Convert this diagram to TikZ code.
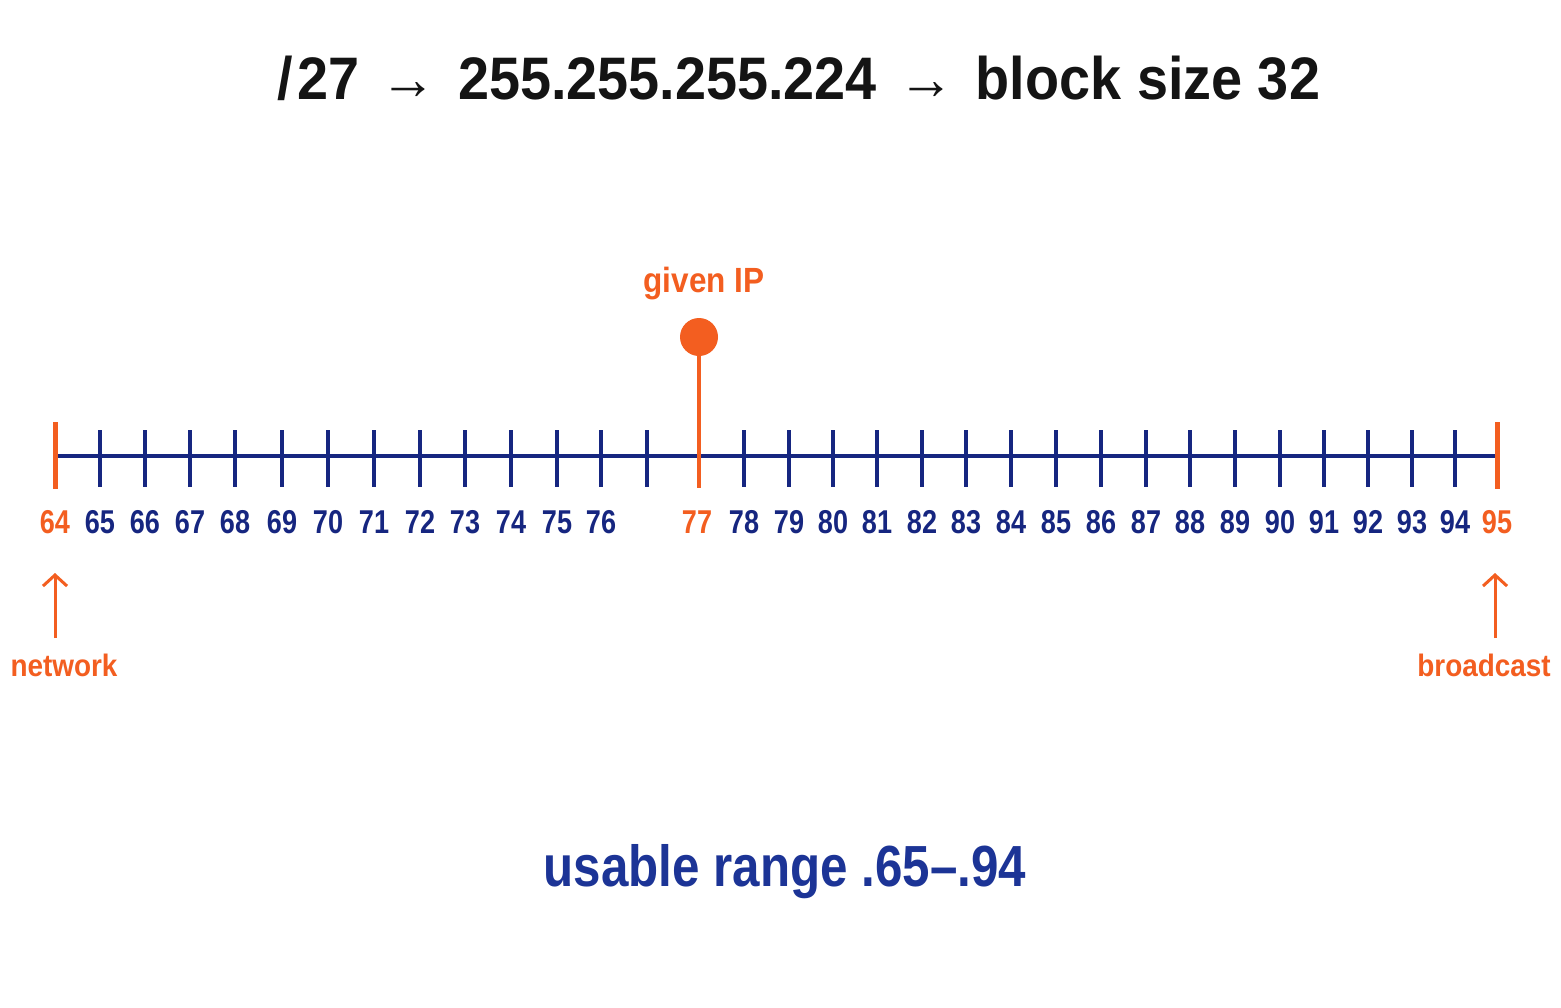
\documentclass[tikz,border=0pt]{standalone}
\usepackage{fontspec}
\setmainfont{Liberation Sans}
\newfontfamily\titlefont{Liberation Sans}[FakeStretch=0.93]
\newfontfamily\numfont{Liberation Sans}[FakeStretch=0.82]
\newfontfamily\rangefont{Liberation Sans}[FakeStretch=0.85]
\newfontfamily\tagfont{Liberation Sans}[FakeStretch=0.9]
\usetikzlibrary{arrows.meta}
\definecolor{orng}{RGB}{243,94,32}
\definecolor{navy}{RGB}{22,38,128}
\definecolor{rangeblue}{RGB}{28,52,150}
\definecolor{ink}{RGB}{20,20,20}
\tikzset{
  tickline/.style={draw=navy, line width=2pt},
  endtick/.style={draw=orng, line width=2.5pt},
  numlabel/.style={font=\numfont\bfseries\fontsize{16.5}{18}\selectfont, text=navy, inner sep=0pt},
  hotlabel/.style={numlabel, text=orng},
  taglabel/.style={font=\tagfont\bfseries\fontsize{15.5}{18}\selectfont, text=orng, inner sep=0pt},
  uparrow/.style={draw=orng, line width=1.5pt, -{Straight Barb[length=5.5pt,width=12pt,line width=1.5pt]}},
}
\begin{document}
\begin{tikzpicture}[x=0.5pt,y=-0.5pt]
\useasboundingbox (0,0) rectangle (1561,1007);
\fill[white] (0,0) rectangle (1561,1007);
% title
\node[font=\titlefont\bfseries\fontsize{30}{34}\selectfont, text=ink, inner sep=0pt] (title) at (799,78) {/\hspace{2pt}27 \hspace{3pt}→\hspace{3pt} 255.255.255.224 \hspace{3pt}→\hspace{3pt} block size 32};
% main line
\coordinate (lstart) at (55,456);
\coordinate (lend) at (1497,456);
\draw[tickline] (lstart) -- (lend);
% blue ticks and labels
\foreach \x/\n in {100/65,145/66,190/67,235/68,282/69,328/70,374/71,420/72,465/73,511/74,557/75,601/76,
                   744/78,789/79,833/80,877/81,922/82,966/83,1011/84,1056/85,1101/86,1146/87,1190/88,
                   1235/89,1280/90,1324/91,1368/92,1412/93,1455/94}{
  \draw[tickline] (\x,430) -- (\x,487);
  \node[numlabel] (l\n) at (\x,522) {\n};
}
\draw[tickline] (647,430) -- (647,487);
% end ticks
\draw[endtick] (55,422) -- (55,489);
\draw[endtick] (1497,422) -- (1497,489);
\node[hotlabel] (l64) at (55,522) {64};
\node[hotlabel] (l95) at (1497,522) {95};
\node[hotlabel] (l77) at (697,522) {77};
% given IP
\node[circle, fill=orng, minimum size=19pt, inner sep=0pt] (dot) at (699,337) {};
\coordinate (stemfoot) at (699,488);
\draw[draw=orng, line width=2pt] (dot.center) -- (stemfoot);
\node[hotlabel, font=\tagfont\bfseries\fontsize{17.5}{20}\selectfont] (given) at (704,284) {given IP};
% network / broadcast
\coordinate (neta) at (55,638);
\coordinate (netb) at (55,573);
\draw[uparrow] (neta) -- (netb);
\node[taglabel] (net) at (64,665) {network};
\coordinate (bra) at (1495,638);
\coordinate (brb) at (1495,573);
\draw[uparrow] (bra) -- (brb);
\node[taglabel] (bc) at (1484,665) {broadcast};
% usable range
\node[font=\rangefont\bfseries\fontsize{29}{33}\selectfont, text=rangeblue, inner sep=0pt] (range) at (785,872) {usable range .65–.94};
\end{tikzpicture}
\end{document}
